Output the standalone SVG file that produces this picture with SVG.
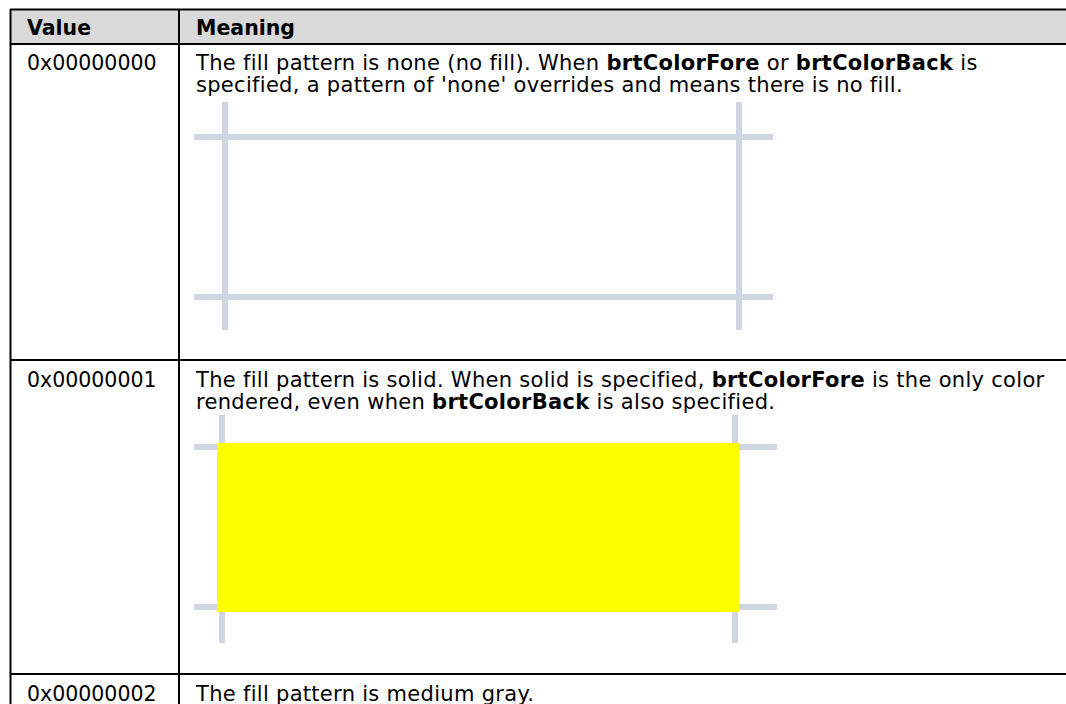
<svg xmlns="http://www.w3.org/2000/svg" width="1066" height="704" viewBox="0 0 1066 704">
<style>
.t{font-family:Verdana,"DejaVu Sans",sans-serif;font-size:21px;letter-spacing:0.3px;fill:#000}
.h{font-family:Verdana,"DejaVu Sans",sans-serif;font-size:20.5px;font-weight:bold;fill:#000}
.v{font-family:Verdana,"DejaVu Sans",sans-serif;font-size:20.5px;fill:#000}
.b{font-weight:bold}
.rule{stroke:#000;stroke-width:2;fill:none}
.grid{stroke:#cfd6e1;stroke-width:6;fill:none}
</style>
<rect width="1066" height="704" fill="#fff"/>
<g id="header">
<rect x="10" y="9" width="1060" height="35" fill="#d9d9d9"/>
<text class="h" x="27" y="35">Value</text>
<text class="h" x="196" y="35">Meaning</text>
</g>
<g id="row1">
<text class="v" x="27" y="70">0x00000000</text>
<text class="t" x="196" y="70">The fill pattern is none (no fill). When <tspan class="b">brtColorFore</tspan> or <tspan class="b">brtColorBack</tspan> is</text>
<text class="t" x="196" y="92">specified, a pattern of 'none' overrides and means there is no fill.</text>
<g id="img-none">
<path class="grid" d="M225 102V330M739 102V330M194 137H773M194 297H773"/>
</g>
</g>
<g id="row2">
<text class="v" x="27" y="387">0x00000001</text>
<text class="t" x="196" y="387">The fill pattern is solid. When solid is specified, <tspan class="b">brtColorFore</tspan> is the only color</text>
<text class="t" x="196" y="409">rendered, even when <tspan class="b">brtColorBack</tspan> is also specified.</text>
<g id="img-solid">
<path class="grid" d="M222 415V643M735 415V643M194 447H777M194 607H777"/>
<rect x="217" y="443" width="522" height="169" fill="#ffff00"/>
</g>
</g>
<g id="row3">
<text class="v" x="27" y="701">0x00000002</text>
<text class="t" x="196" y="701">The fill pattern is medium gray.</text>
</g>
<g id="rules">
<path class="rule" d="M10 9.5H1066M10 44H1066M10 360H1066M10 674H1066M10.5 9V704M179 9V704"/>
</g>
</svg>
